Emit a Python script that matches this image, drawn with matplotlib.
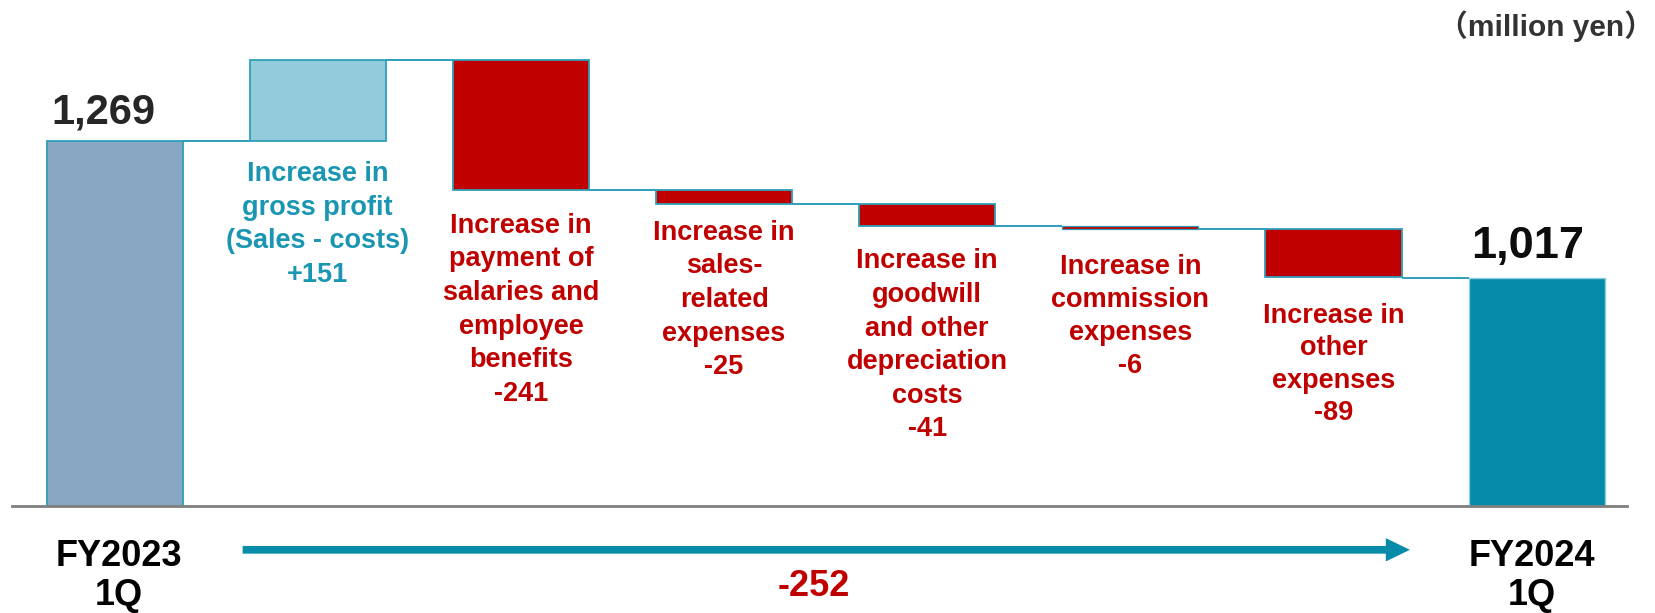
import matplotlib
matplotlib.use("Agg")
import matplotlib.pyplot as plt
from matplotlib.transforms import offset_copy

# ---------------- data ----------------
start_label = "FY2023\n1Q"
end_label = "FY2024\n1Q"
start_value = 1269
end_value = 1017
change_names = [
    "Increase in\ngross profit\n(Sales - costs)",
    "Increase in\npayment of\nsalaries and\nemployee\nbenefits",
    "Increase in\nsales-\nrelated\nexpenses",
    "Increase in\ngoodwill\nand other\ndepreciation\ncosts",
    "Increase in\ncommission\nexpenses",
    "Increase in\nother\nexpenses",
]
change_values = [151, -241, -25, -41, -6, -89]
net_change = -252
unit_label = "（million yen）"

# ---------------- style ----------------
C_START = "#87A7C2"
C_UP = "#93CBDC"
C_DOWN = "#C00000"
C_END = "#068BA9"
C_EDGE = "#2E9FB8"
C_UP_TEXT = "#1A96B3"
C_AXIS = "#7F7F7F"
FAMILY = ["Liberation Sans", "Noto Sans CJK JP", "DejaVu Sans"]
plt.rcParams["font.family"] = FAMILY

W, H, DPI = 1655, 613, 100
PX = 72.0 / DPI  # points per pixel

fig = plt.figure(figsize=(W / DPI, H / DPI), dpi=DPI)
base_px = 506.0
ax = fig.add_axes([12.3 / W, (H - base_px) / H, (1627 - 12.3) / W, base_px / H])

n = len(change_values) + 2
xs = list(range(n))
bw = 0.67

# running waterfall
levels = [start_value]
bottoms, heights = [], []
lvl = start_value
for v in change_values:
    bottoms.append(min(lvl, lvl + v))
    heights.append(abs(v))
    lvl += v
    levels.append(lvl)

# total bars (axis is truncated, so they are clipped by the y-limits)
ax.bar(xs[0], start_value, width=bw, color=C_START, edgecolor=C_EDGE, linewidth=1.3, zorder=2)
ax.bar(xs[-1], end_value, width=bw, color=C_END, edgecolor="#8FCFDF", linewidth=1.0, zorder=2)
for i, (b, h, v) in enumerate(zip(bottoms, heights, change_values), start=1):
    ax.bar(xs[i], h, bottom=b, width=bw, color=C_UP if v > 0 else C_DOWN,
           edgecolor=C_EDGE, linewidth=1.3 if h > 10 else 0.9, zorder=2)

# connectors
conn_levels = levels[:-1] + [end_value]
for i in range(n - 1):
    lv = conn_levels[i]
    ax.plot([xs[i] + bw / 2, xs[i + 1] - bw / 2], [lv, lv], color=C_EDGE, lw=1.4,
            zorder=1, solid_capstyle="butt")

# axis styling
ax.set_xlim(-0.504, 7.445)
ax.set_ylim(594, 1531)
for s in ["top", "right", "left"]:
    ax.spines[s].set_visible(False)
ax.spines["bottom"].set_color(C_AXIS)
ax.spines["bottom"].set_linewidth(2.0)
ax.spines["bottom"].set_zorder(3)
ax.set_xticks([])
ax.set_yticks([])

# total value labels
ax.annotate(f"{start_value:,}", xy=(xs[0], start_value), xytext=(-11 * PX, 18 * PX),
            textcoords="offset points", ha="center", va="baseline",
            fontsize=30, fontweight="bold", color="#262626")
ax.annotate(f"{end_value:,}", xy=(xs[-1], end_value), xytext=(-9 * PX, 20 * PX),
            textcoords="offset points", ha="center", va="baseline",
            fontsize=32.5, fontweight="bold", color="#0D0D0D")

# change labels
label_gap_px = [19.8, 22.7, 16.3, 22.7, 24.7, 25.8]
label_spacing = [1.38, 1.38, 1.38, 1.38, 1.36, 1.32]
for i, (name, v, b, g, ls) in enumerate(zip(change_names, change_values, bottoms,
                                            label_gap_px, label_spacing), start=1):
    ax.annotate(f"{name}\n{v:+d}", xy=(xs[i], b), xytext=(0, -g * PX),
                textcoords="offset points", ha="center", va="top",
                fontsize=19.5, fontweight="bold", linespacing=ls,
                color=C_UP_TEXT if v > 0 else C_DOWN)

# category labels under axis
xtr = ax.get_xaxis_transform()
for x, lab, dx in [(xs[0], start_label, 4), (xs[-1], end_label, -5)]:
    ax.annotate(lab, xy=(x, 0), xycoords=xtr, xytext=(dx * PX, -33.3 * PX),
                textcoords="offset points", ha="center", va="top", multialignment="center",
                fontsize=26, fontweight="bold", color="black", linespacing=1.15,
                annotation_clip=False)

# arrow with net change
arr_tr = offset_copy(xtr, fig=fig, y=-43.8 * PX, units="points")
x0, x1 = xs[0] + 0.63, xs[-1] - 0.624
ax.annotate("", xy=(x1, 0), xycoords=arr_tr, xytext=(x0, 0), textcoords=arr_tr,
            arrowprops=dict(arrowstyle="simple,head_length=1.73,head_width=1.68,tail_width=0.554",
                            mutation_scale=10, color=C_END, lw=0, shrinkA=0, shrinkB=0),
            annotation_clip=False)
ax.annotate(f"{net_change:d}", xy=((xs[0] + xs[-1]) / 2, 0), xycoords=xtr,
            xytext=(-12 * PX, -63.3 * PX), textcoords="offset points",
            ha="center", va="top", fontsize=26, fontweight="bold", color=C_DOWN,
            annotation_clip=False)

# unit label
fig.text(0.9995, 1 - 36 / H, unit_label, ha="right", va="baseline",
         fontsize=21.5, fontweight="bold", color="#333333")

fig.savefig("out.png", dpi=DPI)
